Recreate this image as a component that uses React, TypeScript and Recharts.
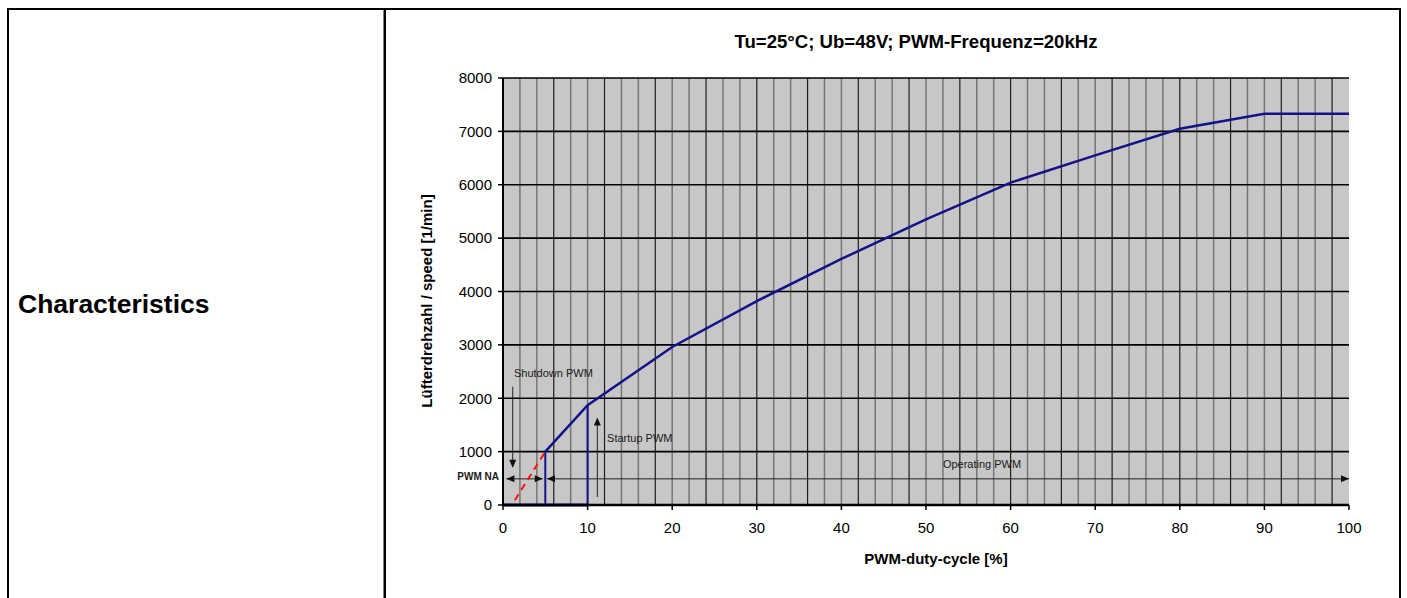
import React from "react";
import {
  ComposedChart,
  Line,
  Scatter,
  XAxis,
  YAxis,
  CartesianGrid,
} from "recharts";

// ---- data ----
const curvePwm = [5, 10, 20, 30, 40, 50, 60, 70, 80, 90, 100];
const curveSpeed = [1000, 1870, 2960, 3820, 4610, 5350, 6040, 6550, 7050, 7330, 7330];

const basePwm = [0, 10];
const baseSpeed = [0, 0];
const shutdownEdgePwm = [5, 5];
const shutdownEdgeSpeed = [0, 1000];
const startupEdgePwm = [10, 10];
const startupEdgeSpeed = [0, 1870];
const redPwm = [1.4, 5];
const redSpeed = [90, 1000];

const xTicks = [0, 10, 20, 30, 40, 50, 60, 70, 80, 90, 100];
const yTicks = [0, 1000, 2000, 3000, 4000, 5000, 6000, 7000, 8000];
const gridXMinor = [2, 4, 8, 10, 14, 16, 20, 22, 26, 28, 32, 34, 38, 40, 44, 46, 50, 52, 56, 58, 62, 64, 68, 70, 74, 76, 78, 82, 84, 88, 90, 94, 96];
const gridXMajor = [6, 12, 18, 24, 30, 36, 42, 48, 54, 60, 66, 72, 80, 86, 92, 98];

// annotation arrows (pwm %, speed)
const arrowShutdownPwm = [1.15, 1.15];
const arrowShutdownSpeed = [2215, 720];
const arrowStartupPwm = [11.15, 11.15];
const arrowStartupSpeed = [150, 1600];
const arrowNaPwm = [0.4, 4.7];
const arrowNaSpeed = [490, 490];
const arrowOpPwm = [5.2, 100];
const arrowOpSpeed = [490, 490];

const headPwm = [1.15, 11.15, 0.4, 4.7, 5.2, 100];
const headSpeed = [700, 1640, 490, 490, 490, 490];
const headDir = ["down", "up", "left", "right", "left", "right"];

const noteText = ["Shutdown PWM", "Startup PWM", "Operating PWM", "PWM NA"];
const notePwm = [1.3, 12.3, 52, 0];
const noteSpeed = [2470, 1250, 770, 530];
const noteAnchor = ["start", "start", "start", "end"];

const title = "Tu=25°C; Ub=48V; PWM-Frequenz=20kHz";
const xLabel = "PWM-duty-cycle [%]";
const yLabel = "Lüfterdrehzahl / speed [1/min]";
const rowLabel = "Characteristics";

const pts = (xs: number[], ys: number[]) => xs.map((x, i) => ({ x, y: ys[i] }));

const curveData = pts(curvePwm, curveSpeed);
const heads = headPwm.map((x, i) => ({ x, y: headSpeed[i], dir: headDir[i] }));
const notes = notePwm.map((x, i) => ({ x, y: noteSpeed[i], label: noteText[i], anchor: noteAnchor[i] }));

const FONT = "'Liberation Sans', Arial, sans-serif";
const NAVY = "#12128a";

const Arrowhead = (props: any) => {
  const { cx, cy, payload } = props;
  if (cx == null || cy == null) return null;
  const L = 8;
  const W = 3.5;
  let p = "";
  switch (payload.dir) {
    case "left":
      p = `${cx},${cy} ${cx + L},${cy - W} ${cx + L},${cy + W}`;
      break;
    case "right":
      p = `${cx},${cy} ${cx - L},${cy - W} ${cx - L},${cy + W}`;
      break;
    case "up":
      p = `${cx},${cy} ${cx - W},${cy + L} ${cx + W},${cy + L}`;
      break;
    default:
      p = `${cx},${cy} ${cx - W},${cy - L} ${cx + W},${cy - L}`;
  }
  return <polygon points={p} fill="#111" />;
};

const Note = (props: any) => {
  const { cx, cy, payload } = props;
  if (cx == null || cy == null) return null;
  const isNa = payload.anchor === "end";
  return (
    <text
      x={isNa ? cx - 4 : cx}
      y={cy}
      dy="0.35em"
      textAnchor={payload.anchor}
      fontFamily={FONT}
      fontSize={isNa ? 10 : 11}
      fontWeight={isNa ? "bold" : "normal"}
      fill="#1a1a1a"
    >
      {payload.label}
    </text>
  );
};

const genX = (vals: number[]) => (props: any) => {
  const { xAxis, offset } = props;
  if (xAxis && typeof xAxis.scale === "function") {
    return vals.map((v) => xAxis.scale(v));
  }
  return vals.map((v) => offset.left + (v / 100) * offset.width);
};

export default function App() {
  return (
    <div style={{ position: "absolute", left: 0, top: 0, width: 1407, height: 598, background: "#fff" }}>
      <svg width={1407} height={598} style={{ position: "absolute", left: 0, top: 0 }}>
        <rect x={7} y={8} width={1394} height={2} fill="#000" />
        <rect x={7} y={8} width={2} height={590} fill="#000" />
        <rect x={383.5} y={8} width={2.5} height={590} fill="#000" />
        <rect x={1399} y={8} width={2} height={590} fill="#000" />
        <text x={18} y={313} fontFamily={FONT} fontSize={26.5} fontWeight="bold" fill="#000">
          {rowLabel}
        </text>
        <text x={916} y={48} textAnchor="middle" fontFamily={FONT} fontSize={18.6} fontWeight="bold" fill="#000">
          {title}
        </text>
        <text x={936} y={564} textAnchor="middle" fontFamily={FONT} fontSize={15} fontWeight="bold" fill="#000">
          {xLabel}
        </text>
        <text
          x={432}
          y={301}
          transform="rotate(-90 432 301)"
          textAnchor="middle"
          fontFamily={FONT}
          fontSize={15}
          fontWeight="bold"
          fill="#000"
        >
          {yLabel}
        </text>
      </svg>
      <div style={{ position: "absolute", left: 0, top: 0 }}>
        <ComposedChart
          width={1407}
          height={598}
          margin={{ top: 78, right: 58, bottom: 63, left: 443 }}
        >
          <CartesianGrid
            fill="#c7c7c7"
            horizontal={false}
            vertical={true}
            stroke="#767676"
            strokeWidth={1.5}
            verticalCoordinatesGenerator={genX(gridXMinor)}
          />
          <CartesianGrid
            horizontal={false}
            vertical={true}
            stroke="#1e1e1e"
            strokeWidth={1.2}
            verticalCoordinatesGenerator={genX(gridXMajor)}
          />
          <CartesianGrid horizontal={true} vertical={false} stroke="#000" strokeWidth={1.6} />
          <XAxis
            type="number"
            dataKey="x"
            domain={[0, 100]}
            ticks={xTicks}
            interval={0}
            height={30}
            tickSize={5}
            tickMargin={12}
            axisLine={{ stroke: "#000", strokeWidth: 2.5 }}
            tickLine={{ stroke: "#000", strokeWidth: 1.5 }}
            tick={{ fontFamily: FONT, fontSize: 15, fill: "#000" }}
          />
          <YAxis
            type="number"
            domain={[0, 8000]}
            ticks={yTicks}
            interval={0}
            width={60}
            tickSize={5}
            tickMargin={6}
            axisLine={{ stroke: "#000", strokeWidth: 2 }}
            tickLine={{ stroke: "#000", strokeWidth: 1.5 }}
            tick={{ fontFamily: FONT, fontSize: 15, fill: "#000" }}
          />
          <Line data={pts(arrowShutdownPwm, arrowShutdownSpeed)} dataKey="y" stroke="#222" strokeWidth={1} dot={false} isAnimationActive={false} />
          <Line data={pts(arrowStartupPwm, arrowStartupSpeed)} dataKey="y" stroke="#222" strokeWidth={1} dot={false} isAnimationActive={false} />
          <Line data={pts(arrowNaPwm, arrowNaSpeed)} dataKey="y" stroke="#222" strokeWidth={1} dot={false} isAnimationActive={false} />
          <Line data={pts(arrowOpPwm, arrowOpSpeed)} dataKey="y" stroke="#222" strokeWidth={1} dot={false} isAnimationActive={false} />
          <Line data={pts(redPwm, redSpeed)} dataKey="y" stroke="#ff1010" strokeWidth={2} strokeDasharray="7 5" dot={false} isAnimationActive={false} />
          <Line data={pts(basePwm, baseSpeed)} dataKey="y" stroke={NAVY} strokeWidth={3} dot={false} isAnimationActive={false} />
          <Line data={pts(shutdownEdgePwm, shutdownEdgeSpeed)} dataKey="y" stroke={NAVY} strokeWidth={2} dot={false} isAnimationActive={false} />
          <Line data={pts(startupEdgePwm, startupEdgeSpeed)} dataKey="y" stroke={NAVY} strokeWidth={2} dot={false} isAnimationActive={false} />
          <Line data={curveData} dataKey="y" stroke={NAVY} strokeWidth={2.5} dot={false} isAnimationActive={false} />
          <Scatter data={heads} dataKey="y" shape={Arrowhead} isAnimationActive={false} />
          <Scatter data={notes} dataKey="y" shape={Note} isAnimationActive={false} />
        </ComposedChart>
      </div>
    </div>
  );
}
